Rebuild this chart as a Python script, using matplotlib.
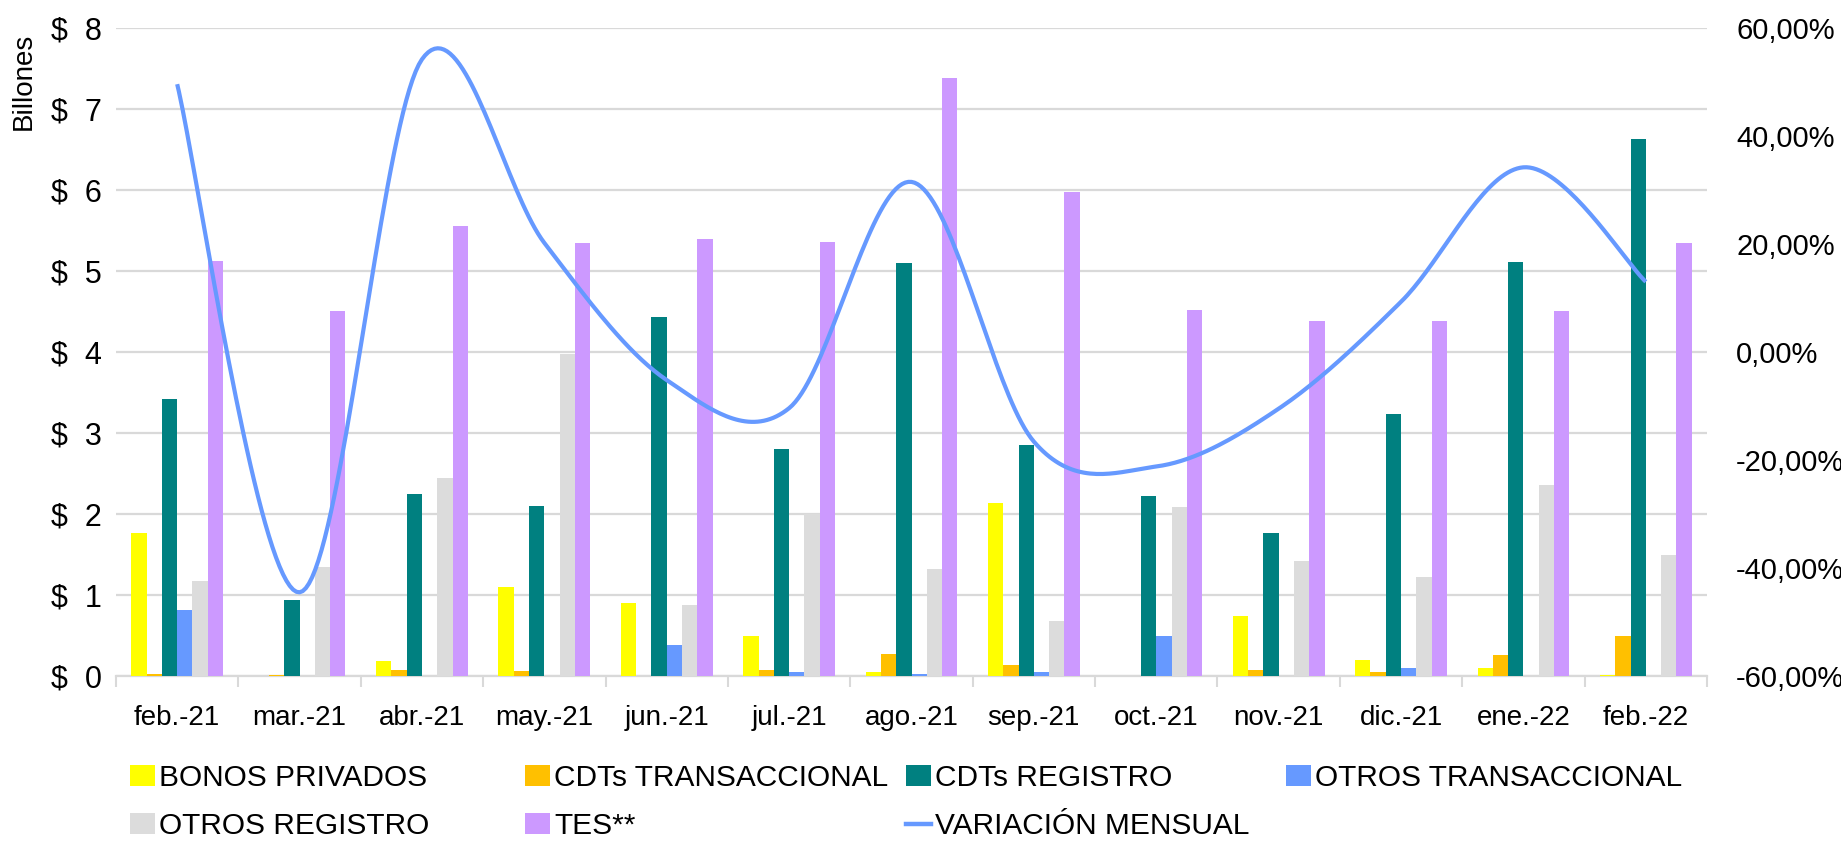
import numpy as np
import matplotlib
matplotlib.use("Agg")
import matplotlib.pyplot as plt
from matplotlib import font_manager
from matplotlib.lines import Line2D
from matplotlib.patches import Patch

months = ["feb.-21", "mar.-21", "abr.-21", "may.-21", "jun.-21", "jul.-21", "ago.-21",
          "sep.-21", "oct.-21", "nov.-21", "dic.-21", "ene.-22", "feb.-22"]
bonos_privados = [1.76, 0.00, 0.19, 1.10, 0.90, 0.50, 0.05, 2.13, 0.00, 0.74, 0.20, 0.10, 0.01]
cdts_transaccional = [0.03, 0.01, 0.07, 0.06, 0.00, 0.08, 0.27, 0.13, 0.00, 0.07, 0.05, 0.26, 0.50]
cdts_registro = [3.42, 0.94, 2.25, 2.10, 4.43, 2.80, 5.10, 2.85, 2.22, 1.77, 3.24, 5.11, 6.63]
otros_transaccional = [0.82, 0.00, 0.00, 0.00, 0.38, 0.05, 0.02, 0.05, 0.50, 0.00, 0.10, 0.00, 0.00]
otros_registro = [1.17, 1.35, 2.45, 3.98, 0.88, 2.00, 1.32, 0.68, 2.09, 1.42, 1.22, 2.36, 1.49]
tes = [5.12, 4.51, 5.56, 5.35, 5.39, 5.36, 7.38, 5.98, 4.52, 4.38, 4.38, 4.51, 5.34]
variacion_mensual = [49.6, -44.5, 54.2, 20.2, -5.2, -10.4, 31.5, -16.6, -21.2, -10.5, 9.3, 34.2, 13.0]

series = [
    ("BONOS PRIVADOS", bonos_privados, "#FFFF00"),
    ("CDTs TRANSACCIONAL", cdts_transaccional, "#FFC000"),
    ("CDTs REGISTRO", cdts_registro, "#008080"),
    ("OTROS TRANSACCIONAL", otros_transaccional, "#6699FF"),
    ("OTROS REGISTRO", otros_registro, "#DCDCDC"),
    ("TES**", tes, "#CC99FF"),
]
line_label = "VARIACIÓN MENSUAL"
line_color = "#6699FF"

names = {f.name for f in font_manager.fontManager.ttflist}
reg_font = "Liberation Sans" if "Liberation Sans" in names else "DejaVu Sans"
narrow_font = "Liberation Sans Narrow" if "Liberation Sans Narrow" in names else reg_font

W, H = 1841, 841
fig = plt.figure(figsize=(W / 100, H / 100), dpi=100)
left_px, right_px, top_px, bot_px = 116, 1707, 28, 676
ax = fig.add_axes([left_px / W, 1 - bot_px / H, (right_px - left_px) / W, (bot_px - top_px) / H])
ax2 = ax.twinx()

x = np.arange(len(months))
bw = 0.125
for i, (name, vals, col) in enumerate(series):
    ax.bar(x + (i - 2.5) * bw, vals, width=bw, color=col, zorder=3, label=name)

ax.set_xlim(-0.5, len(months) - 0.5)
ax.set_ylim(0, 8)
ax.set_yticks(range(0, 9))
ax.set_yticklabels([f"$  {v}" for v in range(0, 9)], fontsize=22, family=narrow_font)
ax.grid(axis="y", color="#D9D9D9", linewidth=1.6, zorder=0)
ax.set_axisbelow(True)
ax.set_xticks(x)
ax.set_xticklabels(months, fontsize=20, family=narrow_font)
ax.set_xticks(np.arange(-0.5, len(months)), minor=True)
ax.tick_params(axis="x", which="major", length=0, pad=21)
ax.tick_params(axis="x", which="minor", length=8, color="#D9D9D9", width=1.5)
ax.tick_params(axis="y", length=0, pad=10)
for s in ["top", "left", "right"]:
    ax.spines[s].set_visible(False)
    ax2.spines[s].set_visible(False)
ax.spines["bottom"].set_color("#D9D9D9")
ax.spines["bottom"].set_linewidth(1.6)
ax2.spines["bottom"].set_visible(False)
ax.set_ylabel("Billones", fontsize=20, family=narrow_font)
ax.yaxis.set_label_coords(-0.050, 0.917)

# smoothed line (Excel-like Bezier through the data points)
px = x.astype(float)
py = np.array(variacion_mensual, dtype=float)
n = len(px)
xs, ys = [], []
t = np.linspace(0, 1, 40)
for k in range(n - 1):
    p0 = np.array([px[max(k - 1, 0)], py[max(k - 1, 0)]])
    p1 = np.array([px[k], py[k]])
    p2 = np.array([px[k + 1], py[k + 1]])
    p3 = np.array([px[min(k + 2, n - 1)], py[min(k + 2, n - 1)]])
    c1 = p1 + (p2 - p0) / 6.0
    c2 = p2 - (p3 - p1) / 6.0
    b = ((1 - t) ** 3)[:, None] * p1 + (3 * (1 - t) ** 2 * t)[:, None] * c1 + \
        (3 * (1 - t) * t ** 2)[:, None] * c2 + (t ** 3)[:, None] * p2
    xs.extend(b[:, 0]); ys.extend(b[:, 1])
ax2.plot(xs, ys, color=line_color, linewidth=3.0, solid_capstyle="butt", zorder=5)
ax2.set_ylim(-60, 60)
ax2.set_yticks(range(-60, 61, 20))
ax2.set_yticklabels([f"{v},00%" for v in range(-60, 61, 20)], fontsize=21, family=reg_font)
ax2.tick_params(axis="y", length=0, pad=21)

# legend: one entry per grid cell (4 columns x 2 rows)
handles = [Patch(facecolor=c, edgecolor="none") for _, _, c in series]
labels = [nm for nm, _, _ in series]
handles.append(Line2D([0], [0], color=line_color, linewidth=3.2))
labels.append(line_label)
col_px = [130, 525, 906, 1286]
row_px = [778, 826]
for idx, (h, lab) in enumerate(zip(handles, labels)):
    r, c = divmod(idx, 4)
    fig.legend([h], [lab], loc="center left",
               bbox_to_anchor=(col_px[c] / W, 1 - row_px[r] / H),
               frameon=False, prop={"family": narrow_font, "size": 21.5},
               handlelength=0.85, handleheight=0.7, handletextpad=0.12,
               borderpad=0, borderaxespad=0)

fig.savefig("out.png", dpi=100)
